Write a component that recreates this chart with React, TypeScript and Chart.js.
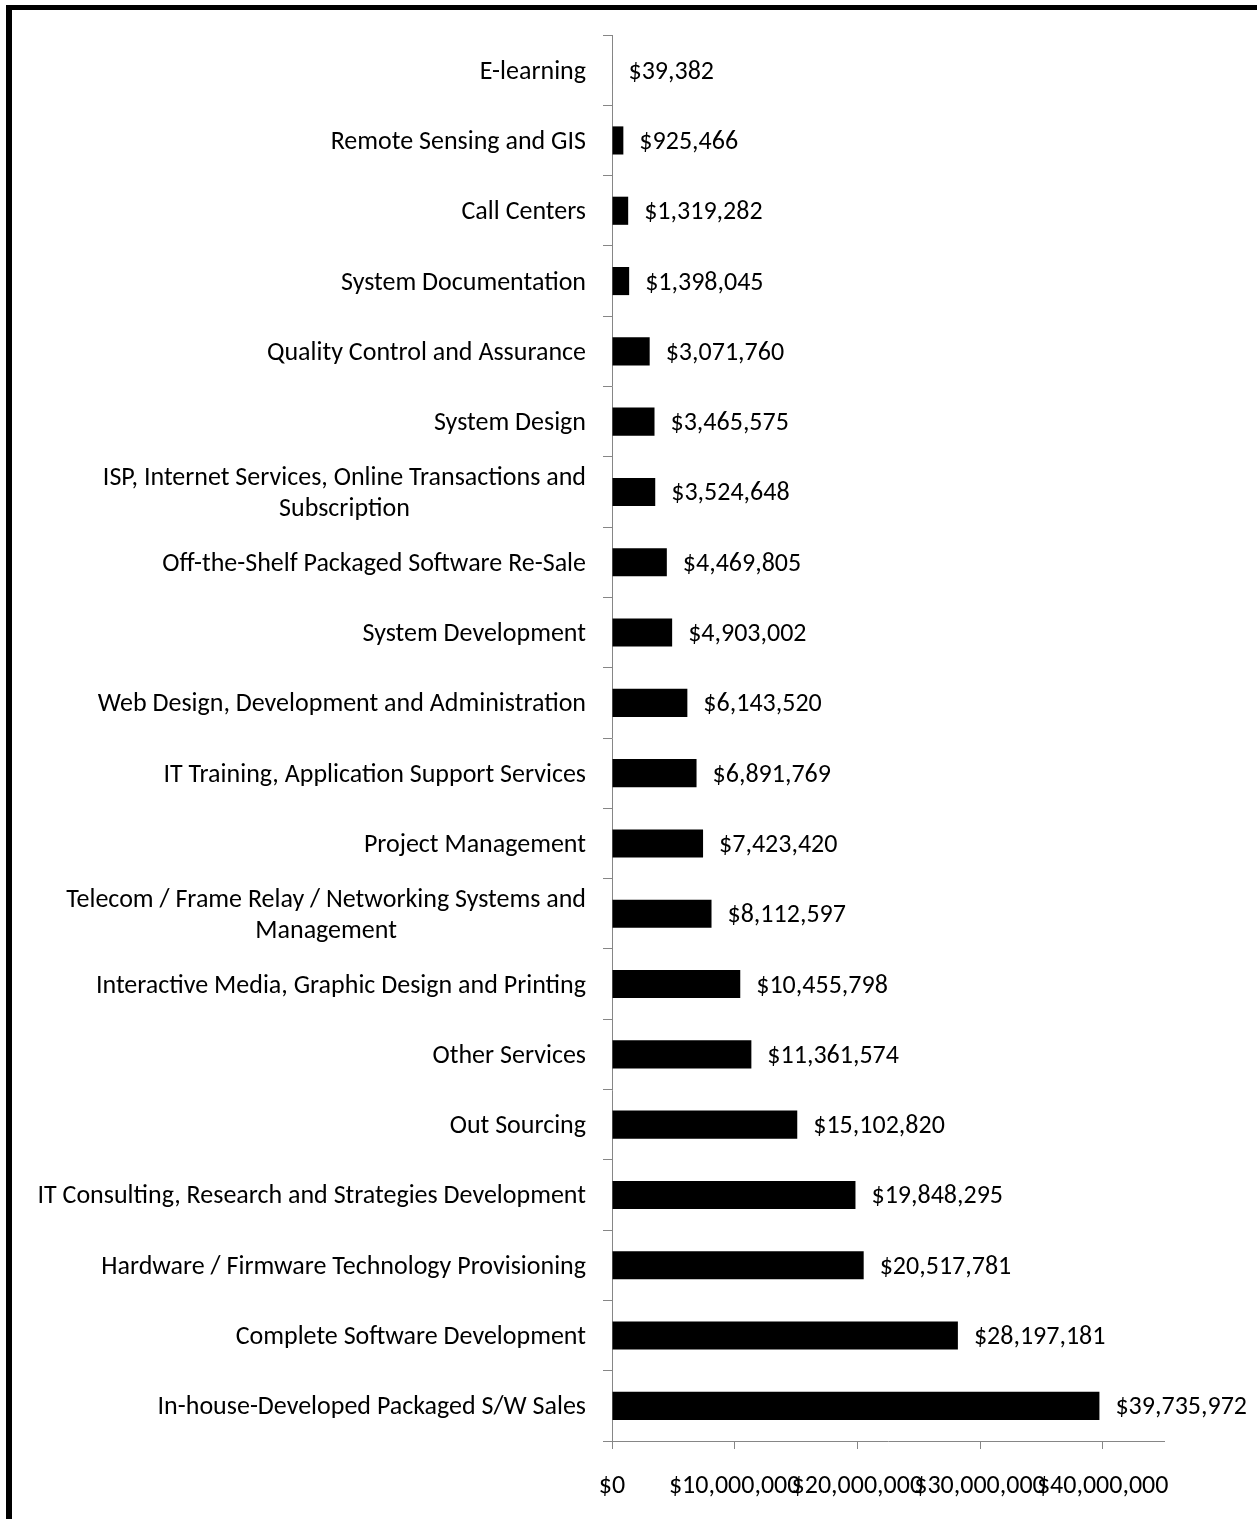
import React, { useEffect, useRef } from "react";
import { Chart, registerables } from "chart.js";

Chart.register(...registerables);

const categories: (string | string[])[] = [
  "E-learning",
  "Remote Sensing and GIS",
  "Call Centers",
  "System Documentation",
  "Quality Control and Assurance",
  "System Design",
  ["ISP, Internet Services, Online Transactions and", "Subscription"],
  "Off-the-Shelf Packaged Software Re-Sale",
  "System Development",
  "Web Design, Development and Administration",
  "IT Training, Application Support Services",
  "Project Management",
  ["Telecom / Frame Relay / Networking Systems and", "Management"],
  "Interactive Media, Graphic Design and Printing",
  "Other Services",
  "Out Sourcing",
  "IT Consulting, Research and Strategies Development",
  "Hardware / Firmware Technology Provisioning",
  "Complete Software Development",
  "In-house-Developed Packaged S/W Sales",
];

const values: number[] = [
  39382, 925466, 1319282, 1398045, 3071760, 3465575, 3524648, 4469805,
  4903002, 6143520, 6891769, 7423420, 8112597, 10455798, 11361574,
  15102820, 19848295, 20517781, 28197181, 39735972,
];

const xTickValues: number[] = [0, 10000000, 20000000, 30000000, 40000000];
const xMax = 45000000;

const FONT = "Carlito, Lato, sans-serif";
const FONT_SIZE = 26;
const LINE_H = 31;
const TEXT_DY = 2;

const fmt = (v: number) => "$" + v.toLocaleString("en-US");

const labelPlugin = {
  id: "customLabels",
  afterDraw(chart: any) {
    const ctx = chart.ctx;
    const ys = chart.scales.y;
    const xs = chart.scales.x;
    ctx.save();
    ctx.font = `${FONT_SIZE}px ${FONT}`;
    ctx.fillStyle = "#000";
    ctx.textBaseline = "middle";
    const right = chart.chartArea.left - 26;
    categories.forEach((c, i) => {
      const py = ys.getPixelForTick(i) + TEXT_DY;
      const lines = Array.isArray(c) ? c : [c];
      if (lines.length === 1) {
        ctx.textAlign = "right";
        ctx.fillText(lines[0], right, py);
      } else {
        const widest = Math.max(...lines.map((l) => ctx.measureText(l).width));
        const cx = right - widest / 2;
        ctx.textAlign = "center";
        lines.forEach((l, k) =>
          ctx.fillText(l, cx, py + (k - (lines.length - 1) / 2) * LINE_H)
        );
      }
      ctx.textAlign = "left";
      ctx.fillText(fmt(values[i]), xs.getPixelForValue(values[i]) + 16, py);
    });
    // frame
    ctx.fillRect(6, 5, 6, chart.height);
    ctx.fillRect(6, 5, chart.width, 5);
    ctx.restore();
  },
};

export default function App() {
  const ref = useRef<HTMLCanvasElement | null>(null);
  useEffect(() => {
    document.body.style.margin = "0";
    document.body.style.overflow = "hidden";
    const canvas = ref.current!;
    const chart = new Chart(canvas, {
      type: "bar",
      data: {
        labels: categories as any,
        datasets: [
          {
            data: values,
            backgroundColor: "#000",
            borderWidth: 0,
            barPercentage: 0.4,
            categoryPercentage: 1,
          },
        ],
      },
      options: {
        indexAxis: "y",
        responsive: false,
        animation: false,
        layout: { padding: { top: 35, right: 93, left: 0, bottom: 0 } },
        plugins: { legend: { display: false }, tooltip: { enabled: false } },
        scales: {
          y: {
            type: "category",
            ticks: { display: false },
            grid: {
              drawOnChartArea: false,
              drawTicks: true,
              tickLength: 9,
              color: "#868686",
              offset: true,
            },
            border: { color: "#868686", width: 1 },
            afterFit: (s: any) => {
              s.width = 612;
            },
          },
          x: {
            type: "linear",
            min: 0,
            max: xMax,
            afterBuildTicks: (s: any) => {
              s.ticks = xTickValues.map((v) => ({ value: v }));
            },
            ticks: {
              autoSkip: false,
              maxRotation: 0,
              minRotation: 0,
              color: "#000",
              padding: 22,
              font: { family: FONT, size: FONT_SIZE },
              callback: (v: any) => fmt(Number(v)),
            },
            grid: {
              drawOnChartArea: false,
              drawTicks: true,
              tickLength: 8,
              color: "#868686",
            },
            border: { color: "#868686", width: 1 },
            afterFit: (s: any) => {
              s.height = 78;
            },
          },
        },
      },
      plugins: [labelPlugin],
    });
    return () => chart.destroy();
  }, []);
  return (
    <div style={{ width: 1257, height: 1519 }}>
      <canvas ref={ref} width={1257} height={1519} style={{ display: "block" }} />
    </div>
  );
}
